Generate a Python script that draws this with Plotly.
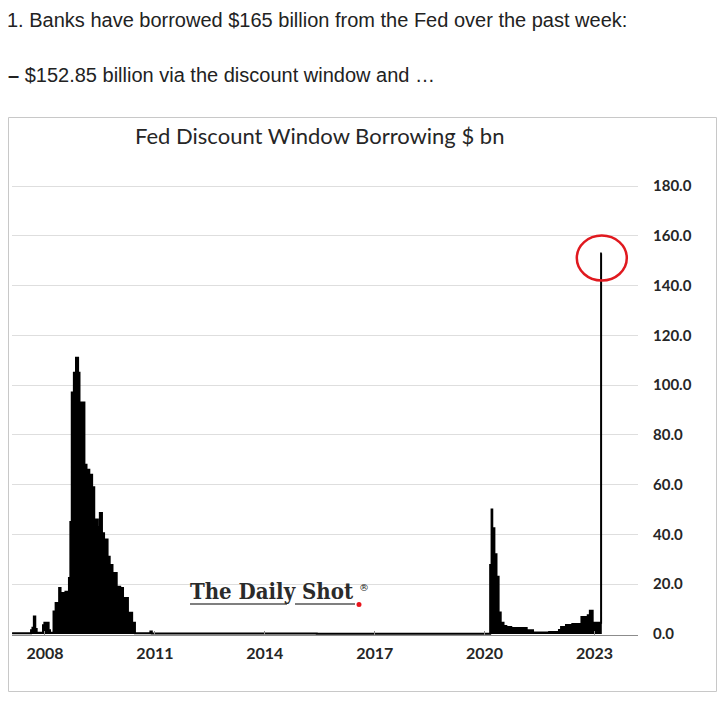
import plotly.graph_objects as go

# ---- data ----
dates = [
    "2007-02-07", "2007-07-25", "2007-08-15", "2007-08-29", "2007-09-12", "2007-09-26",
    "2007-10-10", "2007-11-28", "2007-12-12", "2007-12-26", "2008-01-16", "2008-02-06",
    "2008-02-20", "2008-03-26", "2008-04-16", "2008-05-21", "2008-06-04", "2008-06-18",
    "2008-07-23", "2008-08-27", "2008-09-10", "2008-09-24", "2008-10-15", "2008-11-05",
    "2008-11-26", "2008-12-10", "2009-01-28", "2009-02-18", "2009-03-18", "2009-04-15",
    "2009-05-06", "2009-06-10", "2009-07-01", "2009-07-22", "2009-08-12", "2009-09-16",
    "2009-10-07", "2009-11-04", "2009-12-16", "2010-01-20", "2010-02-17", "2010-04-07",
    "2010-05-19", "2010-06-16", "2010-11-17", "2010-12-01", "2015-06-03", "2020-02-26",
    "2020-03-11", "2020-03-18", "2020-04-08", "2020-04-29", "2020-05-20", "2020-06-10",
    "2020-07-08", "2020-08-05", "2020-09-23", "2021-02-24", "2021-04-28", "2021-10-06",
    "2022-01-12", "2022-02-02", "2022-03-23", "2022-05-25", "2022-08-24", "2022-10-26",
    "2022-11-16", "2022-12-14", "2023-03-08", "2023-03-15",
]
borrowing_bn = [
    0.3, 0.3, 1.5, 2.5, 7.0, 2.0,
    0.5, 0.5, 3.5, 4.5, 4.5, 1.5,
    0.5, 9.0, 12.5, 18.5, 13.0, 16.5,
    17.0, 22.5, 45.0, 97.0, 105.0, 111.0,
    105.0, 93.0, 68.0, 66.0, 64.0, 59.0,
    46.0, 43.0, 48.6, 40.5, 38.0, 31.0,
    27.7, 24.5, 19.0, 18.5, 14.5, 8.5,
    4.5, 0.3, 1.0, 0.2, 0.1, 27.7,
    50.0, 42.5, 32.0, 23.0, 8.6, 4.5,
    3.2, 2.8, 2.4, 1.5, 0.6, 0.8,
    1.6, 2.8, 3.6, 4.0, 6.8, 7.5,
    9.3, 4.5, 152.85, 152.85,
]
year_ticks = ["2008-01-01", "2011-01-01", "2014-01-01", "2017-01-01", "2020-01-01", "2023-01-01"]
year_labels = ["2008", "2011", "2014", "2017", "2020", "2023"]
y_ticks = [0, 20, 40, 60, 80, 100, 120, 140, 160, 180]

# ---- geometry (page has an 8px body margin) ----
OFF = 8
W, H = 727 - 2 * OFF, 702 - 2 * OFF
PL, PR, PT, PB = 12, 638, 169, 635          # plot area in page pixels
L, R, T, B = PL - OFF, W - (PR - OFF), PT - OFF, H - (PB - OFF)
pw, ph = PR - PL, PB - PT
PX_PER_UNIT = (634 - 186) / 180.0
y_lo = -(PB - 634) / PX_PER_UNIT
y_hi = (634 - PT) / PX_PER_UNIT

def px(x):
    return (x - PL) / pw

def py(y):
    return (PB - y) / ph

fig = go.Figure()
fig.add_trace(go.Scatter(
    x=dates, y=borrowing_bn, mode="lines", line=dict(color="black", width=2, shape="hv"),
    fill="tozeroy", fillcolor="black", showlegend=False, hoverinfo="x+y",
))

fig.update_layout(
    width=W, height=H, margin=dict(l=L, r=R, t=T, b=B),
    paper_bgcolor="white", plot_bgcolor="white",
    xaxis=dict(
        type="date", range=["2007-02-06", "2024-03-10"],
        tickvals=year_ticks, ticktext=year_labels,
        showgrid=False, showline=True, linecolor="#8c8c8c", linewidth=1,
        ticks="inside", ticklen=4, tickcolor="#8c8c8c", ticklabelstandoff=4,
        tickfont=dict(family="Lato", size=16, color="#262626", weight="bold"),
        zeroline=False,
    ),
    yaxis=dict(
        side="right", range=[y_lo, y_hi], tickvals=y_ticks, tickformat=".1f",
        showgrid=True, gridcolor="#dedede", gridwidth=1, zeroline=False,
        ticks="", ticklabelstandoff=14,
        tickfont=dict(family="Lato", size=15, color="#262626", weight="bold"),
    ),
    font=dict(family="Liberation Sans"),
)

# outer chart box
fig.add_shape(type="rect", xref="paper", yref="paper",
              x0=px(8.5), x1=px(716.5), y0=py(691.5), y1=py(117.5),
              line=dict(color="#c8c8c8", width=1), fillcolor="rgba(0,0,0,0)", layer="below")

# header texts
fig.add_annotation(xref="paper", yref="paper", x=px(6), y=py(OFF), xanchor="left", yanchor="top",
                   borderpad=0,
                   text="1. Banks have borrowed $165 billion from the Fed over the past week:",
                   showarrow=False, font=dict(family="Liberation Sans", size=20, color="#222222"))
fig.add_annotation(xref="paper", yref="paper", x=px(6), y=py(75), xanchor="left", yanchor="middle",
                   text="<b>–</b> $152.85 billion via the discount window and …",
                   showarrow=False, font=dict(family="Liberation Sans", size=20, color="#222222"))

# chart title
fig.add_annotation(xref="paper", yref="paper", x=px(319), y=py(135), xanchor="center", yanchor="middle",
                   text="Fed Discount Window Borrowing $ bn",
                   showarrow=False, font=dict(family="Lato", size=22, color="#262626"))

# watermark
fig.add_annotation(xref="paper", yref="paper", x=px(188), y=py(591), xanchor="left", yanchor="middle",
                   text="The Daily Shot",
                   showarrow=False,
                   font=dict(family="DejaVu Serif Condensed", size=22, color="#2b2b2b", weight="bold"))
fig.add_annotation(xref="paper", yref="paper", x=px(357), y=py(587), xanchor="left", yanchor="middle",
                   text="®", showarrow=False, font=dict(family="DejaVu Serif", size=10, color="#222222"))
fig.add_shape(type="line", xref="paper", yref="paper", x0=px(190), x1=px(287), y0=py(604), y1=py(604),
              line=dict(color="#555555", width=1.5))
fig.add_shape(type="line", xref="paper", yref="paper", x0=px(295), x1=px(355), y0=py(604), y1=py(604),
              line=dict(color="#555555", width=1.5))
fig.add_shape(type="circle", xref="paper", yref="paper", x0=px(356.5), x1=px(361.5), y0=py(607), y1=py(602),
              line=dict(color="#e8141b", width=0), fillcolor="#e8141b")

# red circle around the latest value
fig.add_shape(type="circle", xref="x", yref="y", xsizemode="pixel", ysizemode="pixel",
              xanchor=dates[-1], yanchor=borrowing_bn[-1],
              x0=-25, x1=25, y0=-27, y1=18,
              line=dict(color="#e0191f", width=2.5))

fig.write_html("out.html")
